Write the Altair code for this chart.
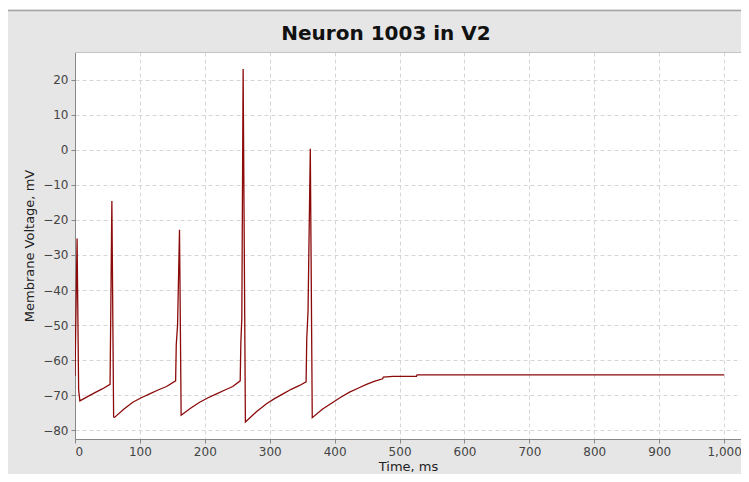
import altair as alt
import pandas as pd

# Membrane voltage trace
time_ms = [0, 3.2, 5.6, 7.5, 20, 30, 42, 54, 56.8, 59.5, 61, 75, 89, 102, 115, 128, 141, 155,
           156, 158, 161, 163.5, 178, 192, 205, 218, 231, 243, 254.5,
           255.5, 257, 259, 262.5, 279, 295, 308, 320.5, 333, 346, 356,
           357, 359, 362.5, 365.5, 381, 397.5, 410, 423, 436, 449, 462, 474,
           475, 490, 526, 527, 1000]
voltage_mv = [-64.5, -25.3, -68.5, -71.6, -70.3, -69.3, -68.2, -66.9, -14.6, -76.2, -76.3, -74.0,
              -72.0, -70.7, -69.6, -68.5, -67.5, -65.9,
              -55.5, -50.0, -22.8, -75.7, -73.7, -72.0, -70.7, -69.6, -68.5, -67.5, -65.9,
              -55.0, -48.0, 23.0, -77.6, -74.8, -72.4, -70.9, -69.6, -68.3, -67.2, -66.2,
              -54.0, -46.0, 0.3, -76.4, -74.0, -72.0, -70.5, -69.1, -68.0, -66.9, -66.0, -65.3,
              -64.8, -64.6, -64.6, -64.2, -64.2]

x_ticks = [0, 100, 200, 300, 400, 500, 600, 700, 800, 900, 1000]
y_ticks = [-80, -70, -60, -50, -40, -30, -20, -10, 0, 10, 20]

df = pd.DataFrame({"t": time_ms, "v": voltage_mv})

FONT = "DejaVu Sans"
x_scale = alt.Scale(domain=[0, 1026], nice=False, zero=False)
y_scale = alt.Scale(domain=[-82.47, 27.88], nice=False, zero=False)

line = alt.Chart(df).mark_line(color="#8b0a0a", strokeWidth=1.3, clip=True).encode(
    x=alt.X("t:Q", scale=x_scale, axis=alt.Axis(
        values=x_ticks, format=",d", title="Time, ms", grid=True,
        gridColor="#d6d6d6", gridDash=[4, 3], gridWidth=1,
        domainColor="#888888", tickColor="#888888", tickSize=4,
        labelColor="#444444", labelFont=FONT, labelFontSize=12, labelPadding=3,
        labelOverlap=False,
        titleFont=FONT, titleFontSize=13, titleFontWeight="normal", titleColor="#222222",
        titlePadding=3)),
    y=alt.Y("v:Q", scale=y_scale, axis=alt.Axis(
        values=y_ticks, format="d", title="Membrane Voltage, mV", grid=True,
        gridColor="#d6d6d6", gridDash=[4, 3], gridWidth=1,
        domainColor="#888888", tickColor="#888888", tickSize=4,
        labelColor="#444444", labelFont=FONT, labelFontSize=12, labelPadding=3,
        labelOverlap=False,
        titleFont=FONT, titleFontSize=13, titleFontWeight="normal", titleColor="#222222",
        titlePadding=6)),
)

frame_df = pd.DataFrame({"k": [0]})
plot_top = alt.Chart(frame_df).mark_rule(color="#c4c4c4", strokeWidth=1).encode(
    x=alt.value(0), x2=alt.value(666), y=alt.value(0.5))
white_strip = alt.Chart(frame_df).mark_rect(color="white").encode(
    x=alt.value(-70), x2=alt.value(670), y=alt.value(-44), y2=alt.value(-42.5))
top_rule = alt.Chart(frame_df).mark_rule(color="#a4a4a4", strokeWidth=1.5).encode(
    x=alt.value(-70), x2=alt.value(670), y=alt.value(-41.5))

chart = alt.layer(white_strip, top_rule, line, plot_top).properties(
    width=666,
    height=387,
    autosize="none",
    padding={"left": 67, "top": 44, "right": 0, "bottom": 35},
    background="#e6e6e6",
    title=alt.TitleParams("Neuron 1003 in V2", font=FONT, fontSize=20, fontWeight="bold",
                          color="#111111", dx=-22, dy=36, offset=0, frame="group"),
).configure_view(fill="white", stroke=None)

chart.save("out.html", embed_options={"renderer": "svg", "actions": False})
